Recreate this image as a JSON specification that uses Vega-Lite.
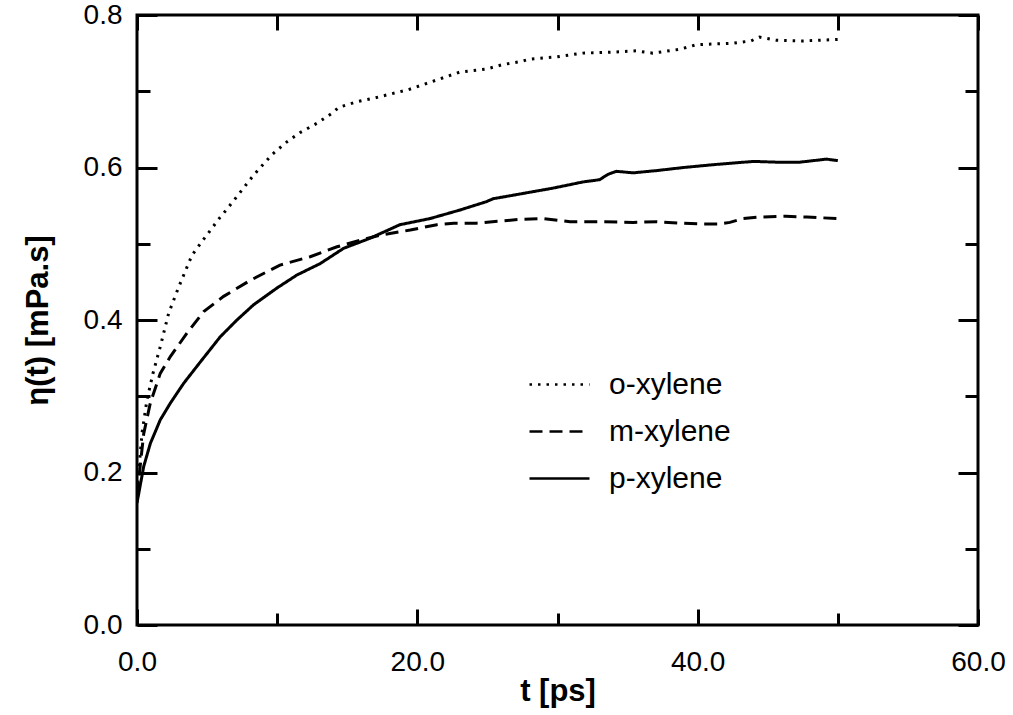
{
  "$schema": "https://vega.github.io/schema/vega-lite/v6.json",
  "width": 841,
  "height": 610,
  "autosize": {"type": "none"},
  "padding": {"left": 137, "top": 15, "right": 35, "bottom": 90},
  "background": "white",
  "config": {
    "font": "Liberation Sans",
    "view": {"stroke": "black", "strokeWidth": 3},
    "axis": {"domain": false, "grid": false, "tickColor": "black", "tickWidth": 3, "labelColor": "black", "titleColor": "black", "labelFont": "Liberation Sans", "titleFont": "Liberation Sans", "titleFontWeight": "bold"}
  },
  "data": {"values": [
    {"series": "o-xylene", "t": 0, "eta": 0.175},
    {"series": "o-xylene", "t": 0.36, "eta": 0.252},
    {"series": "o-xylene", "t": 0.71, "eta": 0.295},
    {"series": "o-xylene", "t": 1.14, "eta": 0.330},
    {"series": "o-xylene", "t": 1.66, "eta": 0.365},
    {"series": "o-xylene", "t": 2.26, "eta": 0.409},
    {"series": "o-xylene", "t": 2.97, "eta": 0.443},
    {"series": "o-xylene", "t": 3.92, "eta": 0.485},
    {"series": "o-xylene", "t": 4.76, "eta": 0.506},
    {"series": "o-xylene", "t": 5.9, "eta": 0.534},
    {"series": "o-xylene", "t": 6.4, "eta": 0.545},
    {"series": "o-xylene", "t": 7.13, "eta": 0.562},
    {"series": "o-xylene", "t": 8.32, "eta": 0.590},
    {"series": "o-xylene", "t": 9.63, "eta": 0.617},
    {"series": "o-xylene", "t": 10.65, "eta": 0.633},
    {"series": "o-xylene", "t": 11.65, "eta": 0.646},
    {"series": "o-xylene", "t": 12.84, "eta": 0.658},
    {"series": "o-xylene", "t": 13.9, "eta": 0.671},
    {"series": "o-xylene", "t": 14.4, "eta": 0.679},
    {"series": "o-xylene", "t": 15.64, "eta": 0.686},
    {"series": "o-xylene", "t": 16.9, "eta": 0.691},
    {"series": "o-xylene", "t": 19.35, "eta": 0.702},
    {"series": "o-xylene", "t": 21.1, "eta": 0.713},
    {"series": "o-xylene", "t": 23.0, "eta": 0.725},
    {"series": "o-xylene", "t": 24.9, "eta": 0.729},
    {"series": "o-xylene", "t": 26.1, "eta": 0.735},
    {"series": "o-xylene", "t": 27.4, "eta": 0.739},
    {"series": "o-xylene", "t": 28.0, "eta": 0.742},
    {"series": "o-xylene", "t": 29.9, "eta": 0.745},
    {"series": "o-xylene", "t": 31.8, "eta": 0.750},
    {"series": "o-xylene", "t": 33.6, "eta": 0.751},
    {"series": "o-xylene", "t": 35.6, "eta": 0.753},
    {"series": "o-xylene", "t": 36.8, "eta": 0.750},
    {"series": "o-xylene", "t": 38.7, "eta": 0.755},
    {"series": "o-xylene", "t": 39.9, "eta": 0.761},
    {"series": "o-xylene", "t": 42.5, "eta": 0.763},
    {"series": "o-xylene", "t": 43.8, "eta": 0.766},
    {"series": "o-xylene", "t": 44.4, "eta": 0.771},
    {"series": "o-xylene", "t": 45.6, "eta": 0.767},
    {"series": "o-xylene", "t": 47.5, "eta": 0.766},
    {"series": "o-xylene", "t": 50.0, "eta": 0.768},
    {"series": "m-xylene", "t": 0, "eta": 0.17},
    {"series": "m-xylene", "t": 0.48, "eta": 0.251},
    {"series": "m-xylene", "t": 0.95, "eta": 0.291},
    {"series": "m-xylene", "t": 1.66, "eta": 0.330},
    {"series": "m-xylene", "t": 2.38, "eta": 0.352},
    {"series": "m-xylene", "t": 3.57, "eta": 0.383},
    {"series": "m-xylene", "t": 4.76, "eta": 0.411},
    {"series": "m-xylene", "t": 6.18, "eta": 0.431},
    {"series": "m-xylene", "t": 8.08, "eta": 0.452},
    {"series": "m-xylene", "t": 10.2, "eta": 0.472},
    {"series": "m-xylene", "t": 12.36, "eta": 0.483},
    {"series": "m-xylene", "t": 14.27, "eta": 0.496},
    {"series": "m-xylene", "t": 16.2, "eta": 0.506},
    {"series": "m-xylene", "t": 17.3, "eta": 0.511},
    {"series": "m-xylene", "t": 19.5, "eta": 0.518},
    {"series": "m-xylene", "t": 21.4, "eta": 0.525},
    {"series": "m-xylene", "t": 22.6, "eta": 0.527},
    {"series": "m-xylene", "t": 24.2, "eta": 0.527},
    {"series": "m-xylene", "t": 26.1, "eta": 0.530},
    {"series": "m-xylene", "t": 27.3, "eta": 0.532},
    {"series": "m-xylene", "t": 29.0, "eta": 0.533},
    {"series": "m-xylene", "t": 30.9, "eta": 0.529},
    {"series": "m-xylene", "t": 33.3, "eta": 0.529},
    {"series": "m-xylene", "t": 35.4, "eta": 0.528},
    {"series": "m-xylene", "t": 37.1, "eta": 0.529},
    {"series": "m-xylene", "t": 38.7, "eta": 0.527},
    {"series": "m-xylene", "t": 40.2, "eta": 0.526},
    {"series": "m-xylene", "t": 41.6, "eta": 0.526},
    {"series": "m-xylene", "t": 42.3, "eta": 0.528},
    {"series": "m-xylene", "t": 43.2, "eta": 0.533},
    {"series": "m-xylene", "t": 44.4, "eta": 0.535},
    {"series": "m-xylene", "t": 46.3, "eta": 0.536},
    {"series": "m-xylene", "t": 47.8, "eta": 0.535},
    {"series": "m-xylene", "t": 50.0, "eta": 0.533},
    {"series": "p-xylene", "t": 0, "eta": 0.16},
    {"series": "p-xylene", "t": 0.48, "eta": 0.208},
    {"series": "p-xylene", "t": 0.95, "eta": 0.238},
    {"series": "p-xylene", "t": 1.66, "eta": 0.269},
    {"series": "p-xylene", "t": 2.38, "eta": 0.291},
    {"series": "p-xylene", "t": 3.33, "eta": 0.317},
    {"series": "p-xylene", "t": 4.52, "eta": 0.345},
    {"series": "p-xylene", "t": 5.94, "eta": 0.378},
    {"series": "p-xylene", "t": 7.13, "eta": 0.400},
    {"series": "p-xylene", "t": 8.32, "eta": 0.420},
    {"series": "p-xylene", "t": 9.99, "eta": 0.442},
    {"series": "p-xylene", "t": 11.41, "eta": 0.459},
    {"series": "p-xylene", "t": 13.07, "eta": 0.474},
    {"series": "p-xylene", "t": 14.74, "eta": 0.494},
    {"series": "p-xylene", "t": 16.6, "eta": 0.507},
    {"series": "p-xylene", "t": 18.76, "eta": 0.525},
    {"series": "p-xylene", "t": 20.9, "eta": 0.533},
    {"series": "p-xylene", "t": 23.0, "eta": 0.544},
    {"series": "p-xylene", "t": 24.9, "eta": 0.555},
    {"series": "p-xylene", "t": 25.4, "eta": 0.559},
    {"series": "p-xylene", "t": 27.55, "eta": 0.566},
    {"series": "p-xylene", "t": 29.7, "eta": 0.573},
    {"series": "p-xylene", "t": 31.8, "eta": 0.581},
    {"series": "p-xylene", "t": 33.0, "eta": 0.584},
    {"series": "p-xylene", "t": 33.6, "eta": 0.591},
    {"series": "p-xylene", "t": 34.2, "eta": 0.595},
    {"series": "p-xylene", "t": 35.4, "eta": 0.593},
    {"series": "p-xylene", "t": 37.1, "eta": 0.596},
    {"series": "p-xylene", "t": 39.0, "eta": 0.600},
    {"series": "p-xylene", "t": 41.3, "eta": 0.604},
    {"series": "p-xylene", "t": 44.0, "eta": 0.608},
    {"series": "p-xylene", "t": 45.6, "eta": 0.607},
    {"series": "p-xylene", "t": 47.3, "eta": 0.607},
    {"series": "p-xylene", "t": 49.2, "eta": 0.611},
    {"series": "p-xylene", "t": 50.0, "eta": 0.609}
  ]},
  "layer": [
    {
      "mark": {"type": "line", "color": "black", "strokeWidth": 3, "clip": true},
      "encoding": {
        "x": {"field": "t", "type": "quantitative", "scale": {"domain": [0, 60], "nice": false, "zero": false},
          "axis": {"orient": "bottom", "title": "t [ps]", "titleFontSize": 31, "titleFontWeight": "bold", "titlePadding": 0, "values": [0, 10, 20, 30, 40, 50, 60],
            "labelExpr": "datum.value % 20 === 0 ? format(datum.value, '.1f') : ''",
            "tickSize": {"condition": {"test": "datum.value % 20 === 0", "value": -16}, "value": -12},
            "labelFontSize": 28, "labelPadding": 39, "labelFlush": false}},
        "y": {"field": "eta", "type": "quantitative", "scale": {"domain": [0, 0.8], "nice": false, "zero": false},
          "axis": {"orient": "left", "title": "η(t) [mPa.s]", "titleFontSize": 31, "titleFontWeight": "bold", "titlePadding": 29, "values": [0, 0.1, 0.2, 0.3, 0.4, 0.5, 0.6, 0.7, 0.8],
            "labelExpr": "round(datum.value * 10) % 2 === 0 ? format(datum.value, '.1f') : ''",
            "tickSize": {"condition": {"test": "round(datum.value * 10) % 2 === 0", "value": -20}, "value": -13},
            "labelFontSize": 28, "labelPadding": 35, "labelFlush": false}},
        "strokeDash": {"field": "series", "type": "nominal",
          "scale": {"domain": ["o-xylene", "m-xylene", "p-xylene"], "range": [[2.5, 6], [13, 7], [1, 0]]},
          "legend": {"orient": "none", "legendX": 391, "legendY": 338, "title": null, "symbolType": "stroke", "symbolSize": 3600, "symbolStrokeWidth": 2.5, "symbolStrokeColor": "black", "labelFontSize": 30, "labelFont": "Liberation Sans", "labelColor": "black", "labelOffset": 18, "rowPadding": -16, "labelLimit": 300}}
      }
    },
    {
      "mark": {"type": "line", "opacity": 0},
      "encoding": {
        "x": {"field": "t", "type": "quantitative",
          "axis": {"orient": "top", "title": null, "labels": false, "values": [0, 10, 20, 30, 40, 50, 60], "tickSize": -15}},
        "y": {"field": "eta", "type": "quantitative",
          "axis": {"orient": "right", "title": null, "labels": false, "values": [0, 0.1, 0.2, 0.3, 0.4, 0.5, 0.6, 0.7, 0.8],
            "tickSize": {"condition": {"test": "round(datum.value * 10) % 2 === 0", "value": -20}, "value": -13}}},
        "detail": {"field": "series"}
      }
    }
  ],
  "resolve": {"axis": {"x": "independent", "y": "independent"}}
}
